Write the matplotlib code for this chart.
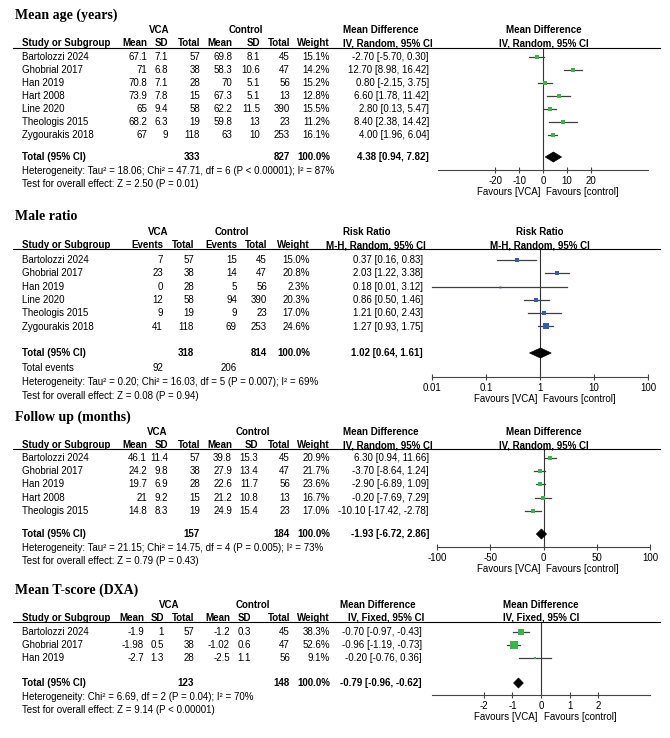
import numpy as np
import matplotlib
matplotlib.use("Agg")
import matplotlib.pyplot as plt
from matplotlib.lines import Line2D
from matplotlib.patches import Polygon

W, H = 670, 738
SANS = "Liberation Sans"
SERIF = "Liberation Serif"
GREEN = "#3cb44b"
BLUE = "#2f5fb3"
CI_COLOR = "#404040"

# ---- Mean age (years) ----
age_studies = ["Bartolozzi 2024", "Ghobrial 2017", "Han 2019", "Hart 2008", "Line 2020",
               "Theologis 2015", "Zygourakis 2018"]
age_vca_mean = [67.1, 71, 70.8, 73.9, 65, 68.2, 67]
age_vca_sd = [7.1, 6.8, 7.1, 7.8, 9.4, 6.3, 9]
age_vca_n = [57, 38, 28, 15, 58, 19, 118]
age_ctl_mean = [69.8, 58.3, 70, 67.3, 62.2, 59.8, 63]
age_ctl_sd = [8.1, 10.6, 5.1, 5.1, 11.5, 13, 10]
age_ctl_n = [45, 47, 56, 13, 390, 23, 253]
age_weight = [15.1, 14.2, 15.2, 12.8, 15.5, 11.2, 16.1]
age_md = [-2.70, 12.70, 0.80, 6.60, 2.80, 8.40, 4.00]
age_lo = [-5.70, 8.98, -2.15, 1.78, 0.13, 2.38, 1.96]
age_hi = [0.30, 16.42, 3.75, 11.42, 5.47, 14.42, 6.04]
age_total = (4.38, 0.94, 7.82)
age_het = "Heterogeneity: Tau² = 18.06; Chi² = 47.71, df = 6 (P < 0.00001); I² = 87%"
age_test = "Test for overall effect: Z = 2.50 (P = 0.01)"

# ---- Male ratio ----
male_studies = ["Bartolozzi 2024", "Ghobrial 2017", "Han 2019", "Line 2020", "Theologis 2015",
                "Zygourakis 2018"]
male_vca_events = [7, 23, 0, 12, 9, 41]
male_vca_n = [57, 38, 28, 58, 19, 118]
male_ctl_events = [15, 14, 5, 94, 9, 69]
male_ctl_n = [45, 47, 56, 390, 23, 253]
male_weight = [15.0, 20.8, 2.3, 20.3, 17.0, 24.6]
male_rr = [0.37, 2.03, 0.18, 0.86, 1.21, 1.27]
male_lo = [0.16, 1.22, 0.01, 0.50, 0.60, 0.93]
male_hi = [0.83, 3.38, 3.12, 1.46, 2.43, 1.75]
male_total = (1.02, 0.64, 1.61)
male_het = "Heterogeneity: Tau² = 0.20; Chi² = 16.03, df = 5 (P = 0.007); I² = 69%"
male_test = "Test for overall effect: Z = 0.08 (P = 0.94)"

# ---- Follow up (months) ----
fu_studies = ["Bartolozzi 2024", "Ghobrial 2017", "Han 2019", "Hart 2008", "Theologis 2015"]
fu_vca_mean = [46.1, 24.2, 19.7, 21, 14.8]
fu_vca_sd = [11.4, 9.8, 6.9, 9.2, 8.3]
fu_vca_n = [57, 38, 28, 15, 19]
fu_ctl_mean = [39.8, 27.9, 22.6, 21.2, 24.9]
fu_ctl_sd = [15.3, 13.4, 11.7, 10.8, 15.4]
fu_ctl_n = [45, 47, 56, 13, 23]
fu_weight = [20.9, 21.7, 23.6, 16.7, 17.0]
fu_md = [6.30, -3.70, -2.90, -0.20, -10.10]
fu_lo = [0.94, -8.64, -6.89, -7.69, -17.42]
fu_hi = [11.66, 1.24, 1.09, 7.29, -2.78]
fu_total = (-1.93, -6.72, 2.86)
fu_het = "Heterogeneity: Tau² = 21.15; Chi² = 14.75, df = 4 (P = 0.005); I² = 73%"
fu_test = "Test for overall effect: Z = 0.79 (P = 0.43)"

# ---- Mean T-score (DXA) ----
ts_studies = ["Bartolozzi 2024", "Ghobrial 2017", "Han 2019"]
ts_vca_mean = [-1.9, -1.98, -2.7]
ts_vca_sd = [1, 0.5, 1.3]
ts_vca_n = [57, 38, 28]
ts_ctl_mean = [-1.2, -1.02, -2.5]
ts_ctl_sd = [0.3, 0.6, 1.1]
ts_ctl_n = [45, 47, 56]
ts_weight = [38.3, 52.6, 9.1]
ts_md = [-0.70, -0.96, -0.20]
ts_lo = [-0.97, -1.19, -0.76]
ts_hi = [-0.43, -0.73, 0.36]
ts_total = (-0.79, -0.96, -0.62)
ts_het = "Heterogeneity: Chi² = 6.69, df = 2 (P = 0.04); I² = 70%"
ts_test = "Test for overall effect: Z = 9.14 (P < 0.00001)"

fig = plt.figure(figsize=(6.7, 7.38), dpi=100)


def put(x, y, s, ha="left", bold=False, size=7, family=SANS):
    fig.text(x / W, 1 - y / H, s, ha=ha, va="center", fontsize=size,
             fontweight="bold" if bold else "normal", family=family)


def hline(y, x0=13, x1=660):
    fig.add_artist(Line2D([x0 / W, x1 / W], [1 - y / H] * 2, color="black", lw=0.8))


def num(v):
    return f"{v:g}"


def ci_text(e, lo, hi):
    return f"{e:.2f} [{lo:.2f}, {hi:.2f}]"


def box_px(w):
    return 1.6 + 0.14 * w


def forest(lay, px, xlim, ticks, ticklabels, est, lo, hi, weight, color, total, head, log=False):
    x0, x1, zx = px
    y_top, y_axis = lay["line"], lay["axis"]
    ax = fig.add_axes([x0 / W, 1 - y_axis / H, (x1 - x0) / W, (y_axis - y_top) / H])
    if log:
        ax.set_xscale("log")
    ax.set_xlim(*xlim)
    ax.set_ylim(y_axis, y_top)
    ax.patch.set_alpha(0)
    for s in ("top", "left", "right"):
        ax.spines[s].set_visible(False)
    ax.spines["bottom"].set_color("#444444")
    ax.spines["bottom"].set_linewidth(0.8)
    ax.set_yticks([])
    ax.set_xticks(ticks)
    ax.set_xticklabels(ticklabels)
    ax.minorticks_off()
    ax.tick_params(axis="x", direction="inout", length=5, width=0.8, color="#444444",
                   pad=1.5, labelsize=7)
    for t in ax.get_xticklabels():
        t.set_family(SANS)
    ax.axvline(1 if log else 0, color="#333333", lw=0.8, zorder=1)
    for i in range(len(est)):
        y = lay["row0"] + i * lay["step"]
        ax.plot([lo[i], hi[i]], [y, y], color=CI_COLOR, lw=0.9, zorder=2, clip_on=False)
        ax.plot(est[i], y, marker="s", ms=box_px(weight[i]) * 0.72, color=color,
                mec=color, mew=0, zorder=3, clip_on=False)
    e, l, h = total
    yt = lay["total"]
    dh = 5
    ax.add_patch(Polygon([(l, yt), (e, yt - dh), (h, yt), (e, yt + dh)], closed=True,
                         facecolor="black", edgecolor="black", lw=0.5, zorder=4, clip_on=False))
    put(zx, lay["group"], head[0], ha="center", bold=True)
    put(zx, lay["head"], head[1], ha="center", bold=True)
    put(zx - 3, lay["axis"] + 22, "Favours [VCA]", ha="right")
    put(zx + 3, lay["axis"] + 22, "Favours [control]", ha="left")


def continuous_panel(title, lay, cols, studies, m1, s1, n1, m2, s2, n2, weight, est, lo, hi,
                     total, het, test, right_head, plot_px, xlim, ticks, color=GREEN):
    put(15, lay["title"], title, bold=True, size=10, family=SERIF)
    put(cols["vca"], lay["group"], "VCA", ha="center", bold=True)
    put(cols["ctl"], lay["group"], "Control", ha="center", bold=True)
    put(22, lay["head"], "Study or Subgroup", bold=True)
    for key, lab in (("m1", "Mean"), ("s1", "SD"), ("n1", "Total"), ("m2", "Mean"),
                     ("s2", "SD"), ("n2", "Total"), ("w", "Weight")):
        put(cols[key], lay["head"], lab, ha="right", bold=True)
    put(cols["rh"][0], lay["group"], right_head[0], bold=True)
    put(cols["rh"][1], lay["head"], right_head[1], bold=True)
    hline(lay["line"])
    for i, s in enumerate(studies):
        y = lay["row0"] + i * lay["step"]
        put(22, y, s)
        put(cols["m1"], y, num(m1[i]), ha="right")
        put(cols["s1"], y, num(s1[i]), ha="right")
        put(cols["n1"], y, str(n1[i]), ha="right")
        put(cols["m2"], y, num(m2[i]), ha="right")
        put(cols["s2"], y, num(s2[i]), ha="right")
        put(cols["n2"], y, str(n2[i]), ha="right")
        put(cols["w"], y, f"{weight[i]:.1f}%", ha="right")
        put(cols["ci"], y, ci_text(est[i], lo[i], hi[i]), ha="right")
    yt = lay["total"]
    put(22, yt, "Total (95% CI)", bold=True)
    put(cols["n1"], yt, str(sum(n1)), ha="right", bold=True)
    put(cols["n2"], yt, str(sum(n2)), ha="right", bold=True)
    put(cols["w"], yt, "100.0%", ha="right", bold=True)
    put(cols["ci"], yt, ci_text(*total), ha="right", bold=True)
    put(22, lay["het"], het)
    put(22, lay["test"], test)
    forest(lay, plot_px, xlim, ticks, [num(t) for t in ticks], est, lo, hi, weight, color,
           total, right_head)


# layouts (pixel rows, from top)
lay_age = dict(title=15, group=30, head=43, line=48, row0=57, step=13.0, total=157,
               het=171, test=184, axis=170)
lay_male = dict(title=217, group=232, head=245, line=249, row0=260, step=13.3, total=353,
                events=368, het=382, test=396, axis=377)
lay_fu = dict(title=417, group=432, head=445, line=449, row0=458, step=13.2, total=534,
              het=548, test=561, axis=547)
lay_ts = dict(title=590, group=605, head=618, line=622, row0=632, step=13.2, total=683,
              het=697, test=710, axis=695)

cols_age = dict(vca=159, ctl=246, m1=147, s1=168, n1=200, m2=232, s2=260, n2=290, w=330,
                ci=429, rh=(343, 343))
cols_fu = dict(vca=157, ctl=253, m1=147, s1=168, n1=200, m2=232, s2=258, n2=290, w=330,
               ci=429, rh=(343, 343))
cols_ts = dict(vca=169, ctl=253, m1=144, s1=164, n1=194, m2=230, s2=251, n2=290, w=330,
               ci=422, rh=(340, 348))

continuous_panel("Mean age (years)", lay_age, cols_age, age_studies, age_vca_mean, age_vca_sd,
                 age_vca_n, age_ctl_mean, age_ctl_sd, age_ctl_n, age_weight, age_md, age_lo,
                 age_hi, age_total, age_het, age_test,
                 ("Mean Difference", "IV, Random, 95% CI"), (438, 648, 543.5), (-44.2, 44.2),
                 [-20, -10, 0, 10, 20])

# ---- Male ratio panel (dichotomous) ----
lay = lay_male
put(15, lay["title"], "Male ratio", bold=True, size=10, family=SERIF)
put(158, lay["group"], "VCA", ha="center", bold=True)
put(232, lay["group"], "Control", ha="center", bold=True)
put(22, lay["head"], "Study or Subgroup", bold=True)
male_cols = dict(e1=163, n1=194, e2=237, n2=267, w=310, ci=423)
for key, lab in (("e1", "Events"), ("n1", "Total"), ("e2", "Events"), ("n2", "Total"),
                 ("w", "Weight")):
    put(male_cols[key], lay["head"], lab, ha="right", bold=True)
put(343, lay["group"], "Risk Ratio", bold=True)
put(326, lay["head"], "M-H, Random, 95% CI", bold=True)
hline(lay["line"])
for i, s in enumerate(male_studies):
    y = lay["row0"] + i * lay["step"]
    put(22, y, s)
    put(male_cols["e1"], y, str(male_vca_events[i]), ha="right")
    put(male_cols["n1"], y, str(male_vca_n[i]), ha="right")
    put(male_cols["e2"], y, str(male_ctl_events[i]), ha="right")
    put(male_cols["n2"], y, str(male_ctl_n[i]), ha="right")
    put(male_cols["w"], y, f"{male_weight[i]:.1f}%", ha="right")
    put(male_cols["ci"], y, ci_text(male_rr[i], male_lo[i], male_hi[i]), ha="right")
yt = lay["total"]
put(22, yt, "Total (95% CI)", bold=True)
put(male_cols["n1"], yt, str(sum(male_vca_n)), ha="right", bold=True)
put(male_cols["n2"], yt, str(sum(male_ctl_n)), ha="right", bold=True)
put(male_cols["w"], yt, "100.0%", ha="right", bold=True)
put(male_cols["ci"], yt, ci_text(*male_total), ha="right", bold=True)
put(22, lay["events"], "Total events")
put(male_cols["e1"], lay["events"], str(sum(male_vca_events)), ha="right")
put(male_cols["e2"], lay["events"], str(sum(male_ctl_events)), ha="right")
put(22, lay["het"], male_het)
put(22, lay["test"], male_test)
forest(lay, (432, 648, 540), (0.01, 100), [0.01, 0.1, 1, 10, 100],
       ["0.01", "0.1", "1", "10", "100"], male_rr, male_lo, male_hi, male_weight, BLUE,
       male_total, ("Risk Ratio", "M-H, Random, 95% CI"), log=True)

continuous_panel("Follow up (months)", lay_fu, cols_fu, fu_studies, fu_vca_mean, fu_vca_sd,
                 fu_vca_n, fu_ctl_mean, fu_ctl_sd, fu_ctl_n, fu_weight, fu_md, fu_lo, fu_hi,
                 fu_total, fu_het, fu_test,
                 ("Mean Difference", "IV, Random, 95% CI"), (437, 650, 543.5), (-100, 100),
                 [-100, -50, 0, 50, 100])

continuous_panel("Mean T-score (DXA)", lay_ts, cols_ts, ts_studies, ts_vca_mean, ts_vca_sd,
                 ts_vca_n, ts_ctl_mean, ts_ctl_sd, ts_ctl_n, ts_weight, ts_md, ts_lo, ts_hi,
                 ts_total, ts_het, ts_test,
                 ("Mean Difference", "IV, Fixed, 95% CI"), (432, 650, 541), (-3.82, 3.82),
                 [-2, -1, 0, 1, 2])

fig.savefig("out.png", dpi=100)
